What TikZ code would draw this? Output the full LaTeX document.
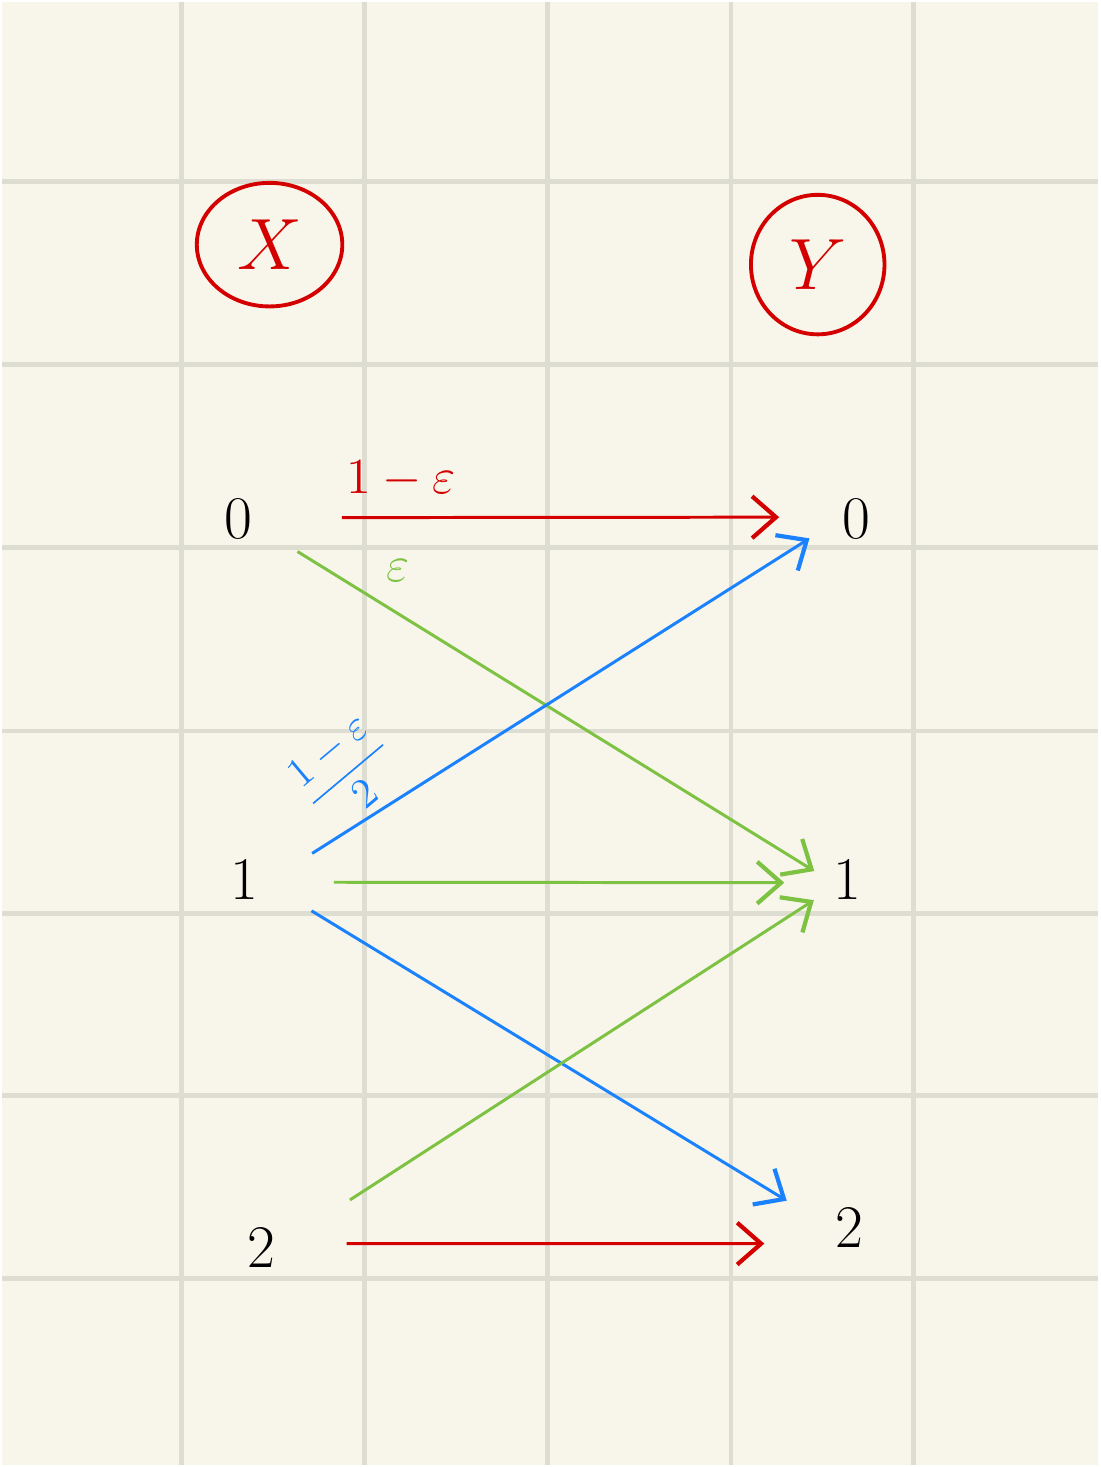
\documentclass[tikz,border=0pt]{standalone}
\usepackage{amsmath}
\usetikzlibrary{arrows.meta,shapes.geometric}

\definecolor{paper}{HTML}{F8F6EA}
\definecolor{gridline}{HTML}{DEDDD2}
\definecolor{inkred}{HTML}{D40000}
\definecolor{inkgreen}{HTML}{7DC242}
\definecolor{inkblue}{HTML}{1A82FF}

\tikzset{
  val/.style={circle,minimum size=0.6cm,inner sep=0pt,font=\LARGE},
  varname/.style={ellipse,draw=inkred,line width=1.1pt,text=inkred,inner sep=0pt,font=\huge},
  pen/.style={line width=0.85pt,-{Straight Barb[length=2.4mm,width=4.2mm,line width=1.2pt]}},
}

\begin{document}
\begin{tikzpicture}[x=1cm,y=1cm]
% paper
\fill[paper] (0,0) rectangle (10.99,-14.67);

\draw[gridline,line width=1.4pt] (1.80,0) -- (1.80,-14.67);
\draw[gridline,line width=1.4pt] (3.63,0) -- (3.63,-14.67);
\draw[gridline,line width=1.4pt] (5.47,0) -- (5.47,-14.67);
\draw[gridline,line width=1.4pt] (7.31,0) -- (7.31,-14.67);
\draw[gridline,line width=1.4pt] (9.14,0) -- (9.14,-14.67);

\draw[gridline,line width=1.4pt] (0,-1.80) -- (10.99,-1.80);
\draw[gridline,line width=1.4pt] (0,-3.63) -- (10.99,-3.63);
\draw[gridline,line width=1.4pt] (0,-5.47) -- (10.99,-5.47);
\draw[gridline,line width=1.4pt] (0,-7.31) -- (10.99,-7.31);
\draw[gridline,line width=1.4pt] (0,-9.14) -- (10.99,-9.14);
\draw[gridline,line width=1.4pt] (0,-10.97) -- (10.99,-10.97);
\draw[gridline,line width=1.4pt] (0,-12.80) -- (10.99,-12.80);

% channel input / output
\node[varname,minimum width=1.46cm,minimum height=1.24cm] (X) at (2.68,-2.43) {$X$};
\node[varname,minimum width=1.34cm,minimum height=1.40cm] (Y) at (8.18,-2.63) {$Y$};

\node[val] (x0) at (2.37,-5.18) {$0$};
\node[val] (x1) at (2.43,-8.80) {$1$};
\node[val] (x2) at (2.60,-12.50) {$2$};

\node[val] (y0) at (8.57,-5.18) {$0$};
\node[val] (y1) at (8.48,-8.80) {$1$};
\node[val] (y2) at (8.50,-12.30) {$2$};

% transitions
\draw[pen,inkred,shorten <=0.73cm,shorten >=0.47cm] (x0.2) -- (y0.177);
\draw[pen,inkgreen,shorten <=0.37cm,shorten >=0.04cm] (x0.-26) -- (y1.168);
\draw[pen,inkblue,shorten <=0.44cm,shorten >=0.21cm] (x1.5) -- (y0.-164);
\draw[pen,inkgreen,shorten <=0.59cm,shorten >=0.33cm] (x1.-5) -- (y1.-174);
\draw[pen,inkblue,shorten <=0.44cm,shorten >=0.39cm] (x1.-16) -- (y2.166);
\draw[pen,inkgreen,shorten <=0.71cm,shorten >=0.09cm] (x2.19) -- (y1.-149);
\draw[pen,inkred,shorten <=0.55cm,shorten >=0.59cm] (x2.9.6) -- (y2.-150);

\node[text=inkred,font=\Large] (p00) at (4.00,-4.78) {$1-\varepsilon$};
\node[text=inkgreen,font=\Large] (p01) at (3.97,-5.70) {$\varepsilon$};
\node[text=inkblue,font=\large,rotate=40] (p10) at (3.45,-7.72) {$\displaystyle\frac{1-\varepsilon}{2}$};
\end{tikzpicture}
\end{document}
